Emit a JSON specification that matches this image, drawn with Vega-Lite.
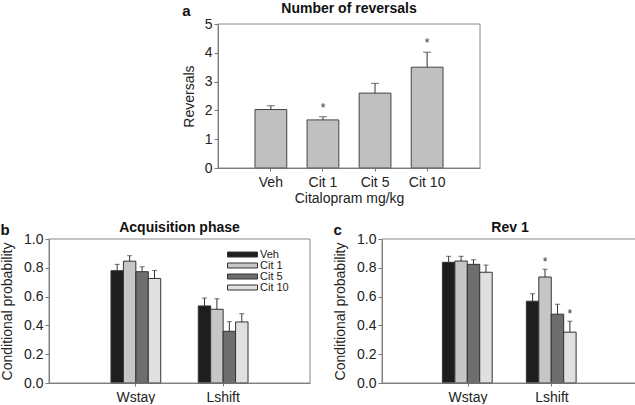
{
  "$schema": "https://vega.github.io/schema/vega-lite/v6.json",
  "padding": {"left": 0, "top": 2, "right": 0, "bottom": 0},
  "config": {
    "font": "Liberation Sans",
    "view": {"stroke": null},
    "axis": {"domainColor": "#777", "tickColor": "#777", "labelColor": "#222", "titleColor": "#222", "labelFontSize": 14, "titleFontSize": 14, "titleFontWeight": "normal", "grid": false, "tickSize": 4, "labelPadding": 2},
    "axisX": {"tickSize": 3, "labelAngle": 0, "titlePadding": 2, "labelPadding": 4},
    "axisY": {"titlePadding": 9, "labelOverlap": false},
    "title": {"fontSize": 14, "fontWeight": "bold", "color": "#111"}
  },
  "resolve": {"scale": {"color": "independent"}, "legend": {"color": "independent"}},
  "datasets": {
    "frame": [{}],
    "rev": [
      {"dose": "Veh", "mean": 2.03, "upper": 2.16, "sig": ""},
      {"dose": "Cit 1", "mean": 1.67, "upper": 1.78, "sig": "*"},
      {"dose": "Cit 5", "mean": 2.6, "upper": 2.94, "sig": ""},
      {"dose": "Cit 10", "mean": 3.5, "upper": 4.02, "sig": "*"}
    ],
    "acq": [
      {"measure": "Wstay", "dose": "Veh", "mean": 0.78, "upper": 0.824, "sig": ""},
      {"measure": "Wstay", "dose": "Cit 1", "mean": 0.846, "upper": 0.884, "sig": ""},
      {"measure": "Wstay", "dose": "Cit 5", "mean": 0.773, "upper": 0.807, "sig": ""},
      {"measure": "Wstay", "dose": "Cit 10", "mean": 0.726, "upper": 0.781, "sig": ""},
      {"measure": "Lshift", "dose": "Veh", "mean": 0.535, "upper": 0.59, "sig": ""},
      {"measure": "Lshift", "dose": "Cit 1", "mean": 0.512, "upper": 0.585, "sig": ""},
      {"measure": "Lshift", "dose": "Cit 5", "mean": 0.359, "upper": 0.426, "sig": ""},
      {"measure": "Lshift", "dose": "Cit 10", "mean": 0.424, "upper": 0.481, "sig": ""}
    ],
    "rev1": [
      {"measure": "Wstay", "dose": "Veh", "mean": 0.838, "upper": 0.88, "sig": ""},
      {"measure": "Wstay", "dose": "Cit 1", "mean": 0.847, "upper": 0.88, "sig": ""},
      {"measure": "Wstay", "dose": "Cit 5", "mean": 0.824, "upper": 0.856, "sig": ""},
      {"measure": "Wstay", "dose": "Cit 10", "mean": 0.769, "upper": 0.819, "sig": ""},
      {"measure": "Lshift", "dose": "Veh", "mean": 0.568, "upper": 0.62, "sig": ""},
      {"measure": "Lshift", "dose": "Cit 1", "mean": 0.736, "upper": 0.79, "sig": "*"},
      {"measure": "Lshift", "dose": "Cit 5", "mean": 0.478, "upper": 0.547, "sig": ""},
      {"measure": "Lshift", "dose": "Cit 10", "mean": 0.353, "upper": 0.429, "sig": "*"}
    ]
  },
  "spacing": 16,
  "vconcat": [
    {
      "spacing": 10,
      "hconcat": [
        {"width": 123, "height": 10, "data": {"values": []}, "mark": {"type": "point", "opacity": 0}},
        {
          "title": {"text": "a", "anchor": "start", "frame": "bounds", "offset": -17, "fontSize": 15},
          "vconcat": [
            {
              "width": 262, "height": 144,
              "title": {"text": "Number of reversals", "offset": 1},
              "resolve": {"scale": {"x": "independent"}},
              "layer": [
                {
                  "data": {"name": "rev"},
                  "encoding": {
                    "x": {"field": "dose", "type": "nominal", "sort": ["Veh", "Cit 1", "Cit 5", "Cit 10"], "scale": {"paddingInner": 0.39, "paddingOuter": 0.71}, "axis": {"title": "Citalopram mg/kg"}}
                  },
                  "layer": [
                    {"mark": {"type": "bar", "fill": "#c0c0c0", "stroke": "#444", "strokeWidth": 1},
                     "encoding": {"y": {"field": "mean", "type": "quantitative", "scale": {"domain": [0, 5], "nice": false}, "axis": {"title": "Reversals", "tickCount": 5, "labelOverlap": false, "titlePadding": 8}}}},
                    {"mark": {"type": "rule", "color": "#333", "strokeWidth": 1},
                     "encoding": {"y": {"field": "mean", "type": "quantitative"}, "y2": {"field": "upper"}}},
                    {"mark": {"type": "tick", "color": "#333", "size": 8, "thickness": 1},
                     "encoding": {"y": {"field": "upper", "type": "quantitative"}}},
                    {"mark": {"type": "text", "dy": -5, "fontSize": 12, "baseline": "alphabetic", "color": "#333"},
                     "encoding": {"y": {"field": "upper", "type": "quantitative"}, "text": {"field": "sig"}}}
                  ]
                },
                {
                  "data": {"name": "frame"},
                  "mark": {"type": "rect", "filled": false, "stroke": "#888", "strokeWidth": 1},
                  "encoding": {
                    "x": {"datum": 0, "type": "quantitative", "scale": {"domain": [0, 1]}, "axis": null},
                    "x2": {"datum": 1},
                    "y": {"datum": 5, "type": "quantitative"},
                    "y2": {"datum": 0}
                  }
                }
              ]
            }
          ]
        }
      ]
    },
    {
      "spacing": 22,
      "resolve": {"scale": {"color": "independent"}, "legend": {"color": "independent"}},
      "hconcat": [
        {
          "title": {"text": "b", "anchor": "start", "frame": "bounds", "offset": -17, "fontSize": 15},
          "resolve": {"scale": {"color": "independent"}, "legend": {"color": "independent"}},
          "vconcat": [
            {
              "width": 261, "height": 144,
              "title": {"text": "Acquisition phase", "offset": -3},
              "resolve": {"scale": {"x": "independent"}},
              "layer": [
                {
                  "data": {"name": "acq"},
                  "encoding": {
                    "x": {"field": "measure", "type": "nominal", "sort": ["Wstay", "Lshift"], "scale": {"paddingInner": 0.43, "paddingOuter": 0.71}, "axis": {"title": null}},
                    "xOffset": {"field": "dose", "type": "nominal", "sort": ["Veh", "Cit 1", "Cit 5", "Cit 10"], "scale": {"paddingInner": 0, "paddingOuter": 0}}
                  },
                  "layer": [
                    {"mark": {"type": "bar", "stroke": "#333", "strokeWidth": 1},
                     "encoding": {
                       "y": {"field": "mean", "type": "quantitative", "scale": {"domain": [0, 1], "nice": false}, "axis": {"title": "Conditional probability", "format": ".1f", "tickCount": 5, "labelOverlap": false}},
                       "color": {"field": "dose", "type": "nominal", "sort": ["Veh", "Cit 1", "Cit 5", "Cit 10"], "scale": {"domain": ["Veh", "Cit 1", "Cit 5", "Cit 10"], "range": ["#1e1e1e", "#c6c6c6", "#6e6e6e", "#e0e0e0"]},
                         "legend": {"orient": "none", "legendX": 188, "legendY": 10, "title": null, "symbolType": "M-3,-0.5H3V0.5H-3Z", "symbolSize": 100, "symbolStrokeColor": "#333", "symbolStrokeWidth": 1, "labelFontSize": 11, "labelOffset": 12, "rowPadding": -3.5, "padding": 0, "labelColor": "#222"}}
                     }},
                    {"mark": {"type": "rule", "color": "#333", "strokeWidth": 1},
                     "encoding": {"y": {"field": "mean", "type": "quantitative"}, "y2": {"field": "upper"}}},
                    {"mark": {"type": "tick", "color": "#333", "size": 5, "thickness": 1},
                     "encoding": {"y": {"field": "upper", "type": "quantitative"}}}
                  ]
                },
                {
                  "data": {"name": "frame"},
                  "mark": {"type": "rect", "filled": false, "stroke": "#888", "strokeWidth": 1},
                  "encoding": {
                    "x": {"datum": 0, "type": "quantitative", "scale": {"domain": [0, 1]}, "axis": null},
                    "x2": {"datum": 1},
                    "y": {"datum": 1, "type": "quantitative"},
                    "y2": {"datum": 0}
                  }
                }
              ]
            }
          ]
        },
        {
          "title": {"text": "c", "anchor": "start", "frame": "bounds", "offset": -17, "fontSize": 15},
          "vconcat": [
            {
              "width": 256, "height": 144,
              "title": {"text": "Rev 1", "offset": -3},
              "resolve": {"scale": {"x": "independent"}},
              "layer": [
                {
                  "data": {"name": "rev1"},
                  "encoding": {
                    "x": {"field": "measure", "type": "nominal", "sort": ["Wstay", "Lshift"], "scale": {"paddingInner": 0.39, "paddingOuter": 0.72}, "axis": {"title": null}},
                    "xOffset": {"field": "dose", "type": "nominal", "sort": ["Veh", "Cit 1", "Cit 5", "Cit 10"], "scale": {"paddingInner": 0, "paddingOuter": 0}}
                  },
                  "layer": [
                    {"mark": {"type": "bar", "stroke": "#333", "strokeWidth": 1},
                     "encoding": {
                       "y": {"field": "mean", "type": "quantitative", "scale": {"domain": [0, 1], "nice": false}, "axis": {"title": "Conditional probability", "format": ".1f", "tickCount": 5, "labelOverlap": false}},
                       "color": {"field": "dose", "type": "nominal", "sort": ["Veh", "Cit 1", "Cit 5", "Cit 10"], "scale": {"domain": ["Veh", "Cit 1", "Cit 5", "Cit 10"], "range": ["#1e1e1e", "#c6c6c6", "#6e6e6e", "#e0e0e0"]}, "legend": null}
                     }},
                    {"mark": {"type": "rule", "color": "#333", "strokeWidth": 1},
                     "encoding": {"y": {"field": "mean", "type": "quantitative"}, "y2": {"field": "upper"}}},
                    {"mark": {"type": "tick", "color": "#333", "size": 5, "thickness": 1},
                     "encoding": {"y": {"field": "upper", "type": "quantitative"}}},
                    {"mark": {"type": "text", "dy": -3, "fontSize": 12, "baseline": "alphabetic", "color": "#333"},
                     "encoding": {"y": {"field": "upper", "type": "quantitative"}, "text": {"field": "sig"}}}
                  ]
                },
                {
                  "data": {"name": "frame"},
                  "mark": {"type": "rect", "filled": false, "stroke": "#888", "strokeWidth": 1},
                  "encoding": {
                    "x": {"datum": 0, "type": "quantitative", "scale": {"domain": [0, 1]}, "axis": null},
                    "x2": {"datum": 1},
                    "y": {"datum": 1, "type": "quantitative"},
                    "y2": {"datum": 0}
                  }
                }
              ]
            }
          ]
        }
      ]
    }
  ]
}
